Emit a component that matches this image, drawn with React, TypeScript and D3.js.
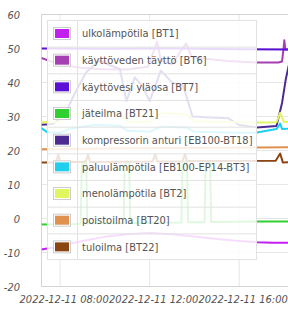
import React from 'react';
import * as d3 from 'd3';

const W = 288;
const H = 314;
const FONT = '"DejaVu Sans Condensed", "DejaVu Sans", sans-serif';

const seriesNames = [
  'ulkolämpötila [BT1]',
  'käyttöveden täyttö [BT6]',
  'käyttövesi yläosa [BT7]',
  'jäteilma [BT21]',
  'kompressorin anturi [EB100-BT18]',
  'paluulämpötila [EB100-EP14-BT3]',
  'menolämpötila [BT2]',
  'poistoilma [BT20]',
  'tuloilma [BT22]',
];
const seriesColors = [
  '#c21ef0', '#a53fb3', '#5c10d6', '#2fd02f', '#4b2a92',
  '#20cfec', '#e1f55e', '#e0904f', '#8b4513',
];

// ulkolämpötila [BT1]
const bt1Times = ['07:10', '07:40', '08:20', '09:00', '10:00', '11:00', '12:00', '13:00', '14:00', '15:00', '16:00', '16:48', '17:30', '18:45'];
const bt1Values = [-9.1, -8.5, -7.6, -6.6, -5.4, -4.6, -4.3, -4.6, -5.3, -6.0, -6.6, -7.0, -7.1, -7.2];

// käyttöveden täyttö [BT6]
const bt6Times = ['07:10', '07:35', '08:10', '09:00', '10:00', '11:00', '11:55', '12:12', '12:20', '12:30', '13:00', '13:25', '13:38', '13:52', '14:30', '15:30', '16:48', '17:45', '17:55', '17:59', '18:01', '18:04', '18:45'];
const bt6Values = [47.2, 46.2, 45.0, 44.3, 43.9, 43.8, 44.6, 49.5, 52.0, 46.5, 45.3, 49.5, 51.5, 47.6, 47.0, 46.3, 45.9, 45.9, 46.2, 50.0, 52.4, 49.7, 49.7];

// käyttövesi yläosa [BT7]
const bt7Times = ['07:10', '10:00', '13:00', '16:00', '18:45'];
const bt7Values = [50.0, 49.9, 50.0, 49.8, 49.7];

// jäteilma [BT21]
const bt21Times = ['07:10', '08:55', '08:58', '09:05', '09:10', '09:13', '10:50', '10:53', '11:00', '11:05', '11:08', '13:25', '13:28', '13:35', '13:40', '13:43', '14:27', '14:30', '14:37', '14:42', '14:45', '16:48', '18:45'];
const bt21Values = [-1.8, -1.6, 15.5, 16.8, 16.5, -1.4, -1.4, 15.5, 16.8, 16.5, -1.3, -1.2, 15.5, 16.8, 16.5, -1.1, -1.1, 15.5, 16.8, 16.5, -1.0, -0.9, -0.9];

// kompressorin anturi [EB100-BT18]
const bt18Times = ['07:10', '07:40', '08:10', '08:40', '09:10', '09:45', '10:15', '10:40', '10:58', '11:20', '11:40', '12:00', '12:30', '13:00', '13:30', '13:55', '14:30', '15:30', '16:00', '16:48', '17:40', '17:55', '18:05', '18:15'];
const bt18Values = [27.6, 27.8, 30.0, 37.0, 43.0, 46.5, 45.0, 44.0, 34.5, 41.5, 39.0, 34.5, 43.5, 40.0, 39.0, 30.0, 29.8, 29.5, 27.5, 26.8, 27.2, 34.0, 41.0, 46.0];

// paluulämpötila [EB100-EP14-BT3]
const bt3Times = ['07:10', '07:25', '08:00', '08:30', '09:30', '10:40', '11:00', '12:00', '12:30', '13:40', '14:00', '16:00', '16:48', '17:40', '17:50', '17:55', '18:45'];
const bt3Values = [26.6, 25.4, 25.3, 26.5, 27.5, 27.3, 25.8, 25.5, 27.0, 26.8, 25.5, 25.2, 25.3, 26.3, 27.9, 26.3, 26.5];

// menolämpötila [BT2]
const bt2Times = ['07:10', '07:50', '08:30', '09:30', '10:40', '11:00', '12:00', '12:30', '13:40', '14:00', '16:48', '17:40', '17:50', '18:00', '18:45'];
const bt2Values = [28.3, 28.3, 30.5, 31.5, 31.0, 28.5, 28.3, 31.0, 30.5, 28.5, 28.2, 28.3, 31.1, 28.4, 28.5];

// poistoilma [BT20]
const bt20Times = ['07:10', '10:00', '13:00', '16:48', '18:45'];
const bt20Values = [20.4, 20.6, 20.7, 20.9, 21.0];

// tuloilma [BT22]
const bt22Times = ['07:10', '07:48', '07:55', '08:00', '09:08', '09:15', '09:20', '12:08', '12:15', '12:20', '13:28', '13:35', '13:40', '17:38', '17:50', '17:57', '18:45'];
const bt22Values = [16.5, 16.5, 18.8, 16.6, 16.6, 18.8, 16.6, 16.8, 19.0, 16.8, 16.8, 19.0, 16.9, 17.0, 19.1, 16.5, 16.6];

const seriesTimes = [bt1Times, bt6Times, bt7Times, bt21Times, bt18Times, bt3Times, bt2Times, bt20Times, bt22Times];
const seriesValues = [bt1Values, bt6Values, bt7Values, bt21Values, bt18Values, bt3Values, bt2Values, bt20Values, bt22Values];

const xTickTimes = ['08:00', '12:00', '16:00'];
const xTickLabels = ['2022-12-11 08:00', '2022-12-11 12:00', '2022-12-11 16:00'];
const yTicks = [-20, -10, 0, 10, 20, 30, 40, 50, 60];

const T = (s: string) => {
  const [h, m] = s.split(':').map(Number);
  return new Date(2022, 11, 11, h, m);
};

export default function App() {
  const left = 41.5;
  const top = 14.5;
  const bottom = 286.5;
  const x = d3.scaleTime().domain([T('07:10'), T('18:45')]).range([left, 300.7]);
  const y = d3.scaleLinear().domain([-20, 60]).range([bottom, top]);
  const line = d3.line<{ t: Date; v: number }>().x(d => x(d.t)).y(d => y(d.v));

  const legendX = 47;
  const legendY = 20;
  const legendW = 210;
  const rowH = 26.67;
  const legendH = rowH * seriesNames.length;

  return (
    <svg width={W} height={H} style={{ position: 'absolute', left: 0, top: 0, background: '#fff' }}>
      <defs>
        <clipPath id="plot">
          <rect x={left} y={top - 2} width={W - left + 10} height={bottom - top + 4} />
        </clipPath>
      </defs>
      {/* grid */}
      {yTicks.map(v => (
        <line key={'gy' + v} x1={left} x2={W} y1={y(v)} y2={y(v)} stroke="#e6e6e6" strokeWidth={1} />
      ))}
      {xTickTimes.map(t => (
        <line key={'gx' + t} x1={x(T(t))} x2={x(T(t))} y1={top} y2={bottom} stroke="#e6e6e6" strokeWidth={1} />
      ))}
      <line x1={left} x2={left} y1={top} y2={bottom} stroke="#d4d4d4" />
      <line x1={left} x2={W} y1={top} y2={top} stroke="#d4d4d4" />
      <line x1={left} x2={W} y1={bottom} y2={bottom} stroke="#d4d4d4" />
      {/* series */}
      <g clipPath="url(#plot)">
        {seriesNames.map((name, i) => {
          const data = seriesTimes[i].map((t, j) => ({ t: T(t), v: seriesValues[i][j] }));
          return (
            <path key={name} d={line(data) || ''} fill="none" stroke={seriesColors[i]} strokeWidth={2} strokeLinejoin="round" />
          );
        })}
      </g>
      {/* y labels */}
      {yTicks.map(v => (
        <text key={'yl' + v} x={20} y={y(v) + 4} textAnchor="end" fontFamily={FONT} fontSize={11} fontStyle="italic" fill="#545454">
          {v}
        </text>
      ))}
      {/* x labels */}
      {xTickTimes.map((t, i) => (
        <text key={'xl' + t} x={x(T(t)) + 4} y={303} textAnchor="middle" fontFamily={FONT} fontSize={11} fontStyle="italic" fill="#545454">
          {xTickLabels[i]}
        </text>
      ))}
      {/* legend */}
      <rect x={legendX} y={legendY} width={legendW} height={legendH} fill="#fff" fillOpacity={0.85} />
      <g>
        {seriesNames.map((name, i) => {
          const ry = legendY + i * rowH;
          return (
            <g key={'lg' + i}>
              <rect x={53.5} y={ry + 7.5} width={17} height={12} fill="#fff" stroke="#cccccc" />
              <rect x={55} y={ry + 9} width={14} height={9} fill={seriesColors[i]} />
              <text x={82} y={ry + rowH / 2 + 4} fontFamily={FONT} fontSize={11} fill="#545454">
                {name}
              </text>
              {i > 0 && (
                <line x1={legendX} x2={legendX + legendW} y1={ry + 0.5} y2={ry + 0.5} stroke="#e2e2e2" />
              )}
            </g>
          );
        })}
        <line x1={77.5} x2={77.5} y1={legendY} y2={legendY + legendH} stroke="#e2e2e2" />
        <rect x={legendX + 0.5} y={legendY + 0.5} width={legendW - 1} height={legendH - 1} fill="none" stroke="#e2e2e2" />
      </g>
    </svg>
  );
}
